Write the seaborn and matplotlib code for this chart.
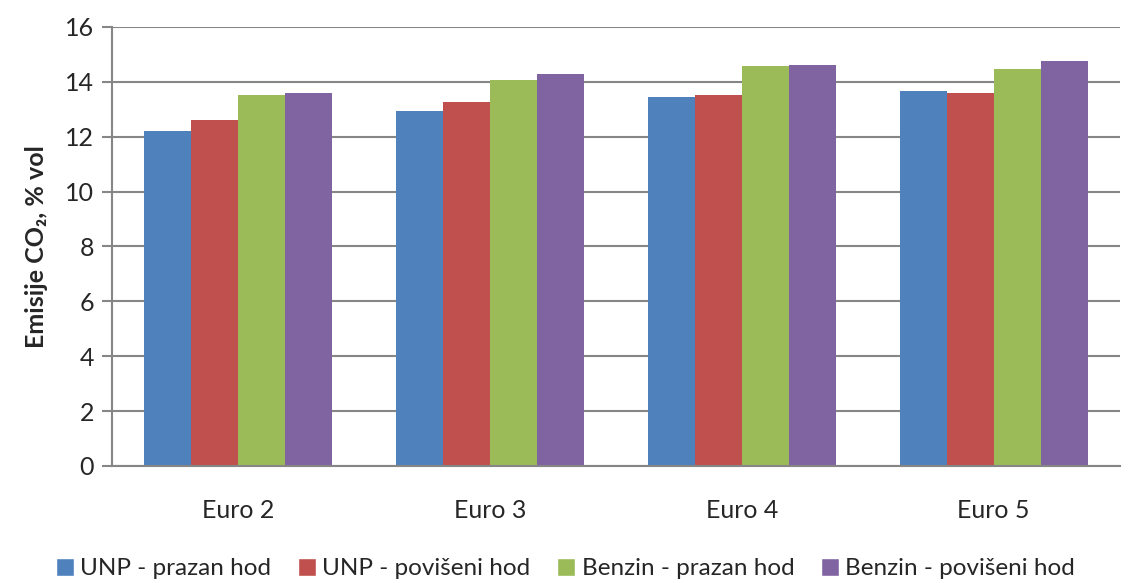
import pandas as pd
import matplotlib.pyplot as plt
import seaborn as sns
from matplotlib.patches import Patch

categories = ["Euro 2", "Euro 3", "Euro 4", "Euro 5"]
series = ["UNP - prazan hod", "UNP - povišeni hod", "Benzin - prazan hod", "Benzin - povišeni hod"]
unp_prazan = [12.22, 12.95, 13.43, 13.66]
unp_poviseni = [12.60, 13.25, 13.53, 13.58]
benzin_prazan = [13.52, 14.06, 14.58, 14.47]
benzin_poviseni = [13.58, 14.29, 14.60, 14.76]
colors = ["#4F81BD", "#C0504D", "#9BBB59", "#8064A2"]

rows = []
for name, vals in zip(series, [unp_prazan, unp_poviseni, benzin_prazan, benzin_poviseni]):
    for cat, v in zip(categories, vals):
        rows.append({"kategorija": cat, "serija": name, "vrijednost": v})
df = pd.DataFrame(rows)

sns.set_style("white")
plt.rcParams["font.family"] = ["Lato", "DejaVu Sans"]

fig = plt.figure(figsize=(11.31, 5.83), dpi=100)
ax = fig.add_axes([0.099, 0.2007, 0.891, 0.7533])

sns.barplot(data=df, x="kategorija", y="vrijednost", hue="serija", hue_order=series,
            palette=colors, width=0.746, saturation=1, ax=ax, legend=False,
            edgecolor="none", linewidth=0)

ax.set_ylim(0, 16)
ax.set_xlim(-0.5, 3.5)
ax.set_yticks(range(0, 17, 2))
ax.yaxis.grid(True, color="#868686", linewidth=1.5)
ax.set_axisbelow(True)

for s in ["top", "right"]:
    ax.spines[s].set_visible(False)
for s in ["left", "bottom"]:
    ax.spines[s].set_color("#868686")
    ax.spines[s].set_linewidth(1.5)

# Excel-like ticks: category boundaries on x, outward
ax.set_xticks([-0.5, 0.5, 1.5, 2.5, 3.5], minor=True)
ax.tick_params(axis="x", which="major", length=0, labelsize=18, pad=24)
ax.tick_params(axis="x", which="minor", length=7, width=1.5, color="#868686", direction="out")
ax.tick_params(axis="y", length=7, width=1.5, color="#868686", direction="out", labelsize=18, pad=6)
ax.tick_params(left=True, bottom=True)

ax.set_xlabel("")
ax.set_ylabel("Emisije CO₂, % vol", fontsize=18, fontweight="bold", labelpad=12)

handles = [Patch(facecolor=c, label=n) for c, n in zip(colors, series)]
fig.legend(handles=handles, loc="center", bbox_to_anchor=(0.5, 0.025), ncol=4,
           frameon=False, fontsize=17.5, handlelength=0.75, handleheight=0.75,
           handletextpad=0.25, columnspacing=1.1)

fig.savefig("out.png", dpi=100)
